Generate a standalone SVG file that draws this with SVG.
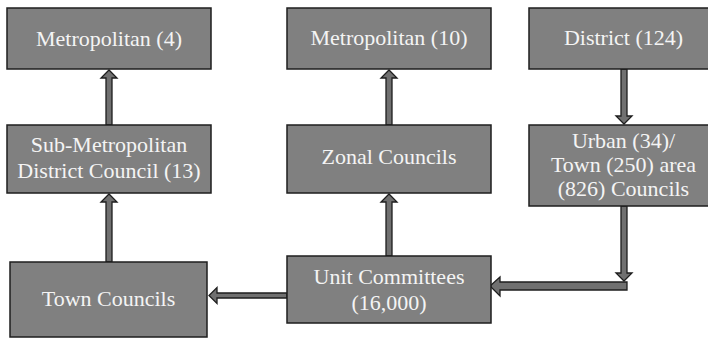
<svg xmlns="http://www.w3.org/2000/svg" width="708" height="338" viewBox="0 0 708 338">
<style>
.box{fill:#808080;stroke:#1e1e1e;stroke-width:1.5}
.arr{fill:#707070;stroke:#1e1e1e;stroke-width:1.3;stroke-linejoin:miter}
text{font-family:"Liberation Serif","Times New Roman",serif;font-size:22px;fill:#f4f4f4;text-anchor:middle}
</style>
<rect width="708" height="338" fill="#ffffff"/>
<g id="connectors">
<polygon class="arr" points="106,125 106,78 101,78 109,70 117,78 112,78 112,125"/>
<polygon class="arr" points="106,262 106,202 101,202 109,194 117,202 112,202 112,262"/>
<polygon class="arr" points="386,125 386,78 381,78 389,70 397,78 392,78 392,125"/>
<polygon class="arr" points="386,256 386,202 381,202 389,194 397,202 392,202 392,256"/>
<polygon class="arr" points="621,69 621,116 616,116 624,124 632,116 627,116 627,69"/>
<polygon class="arr" points="627,290 627,282 500,282 500,277 490,286 500,296 500,290"/>
<polygon class="arr" points="621,206 621,273 616,273 624,281 632,273 627,273 627,206"/>
<polygon class="arr" points="287,293 217,293 217,287.5 209,295.5 217,303.5 217,298 287,298"/>
</g>
<g id="metro4"><rect class="box" x="7" y="8" width="204" height="61"/><text x="109" y="46">Metropolitan (4)</text></g>
<g id="submetro"><rect class="box" x="7" y="125" width="204" height="68"/><text x="109" y="152">Sub-Metropolitan</text><text x="109" y="178">District Council (13)</text></g>
<g id="town"><rect class="box" x="10" y="262" width="197" height="75"/><text x="108.5" y="306">Town Councils</text></g>
<g id="metro10"><rect class="box" x="287" y="8" width="204" height="61"/><text x="389" y="45">Metropolitan (10)</text></g>
<g id="zonal"><rect class="box" x="287" y="125" width="204" height="68"/><text x="389" y="164">Zonal Councils</text></g>
<g id="unit"><rect class="box" x="287" y="256" width="204" height="67"/><text x="389" y="284">Unit Committees</text><text x="389" y="310">(16,000)</text></g>
<g id="district"><rect class="box" x="529" y="8" width="190" height="61"/><text x="623.5" y="45">District (124)</text></g>
<g id="urban"><rect class="box" x="529" y="125" width="190" height="81"/><text x="623.5" y="148">Urban (34)/</text><text x="623.5" y="172">Town (250) area</text><text x="623.5" y="196">(826) Councils</text></g>
</svg>
